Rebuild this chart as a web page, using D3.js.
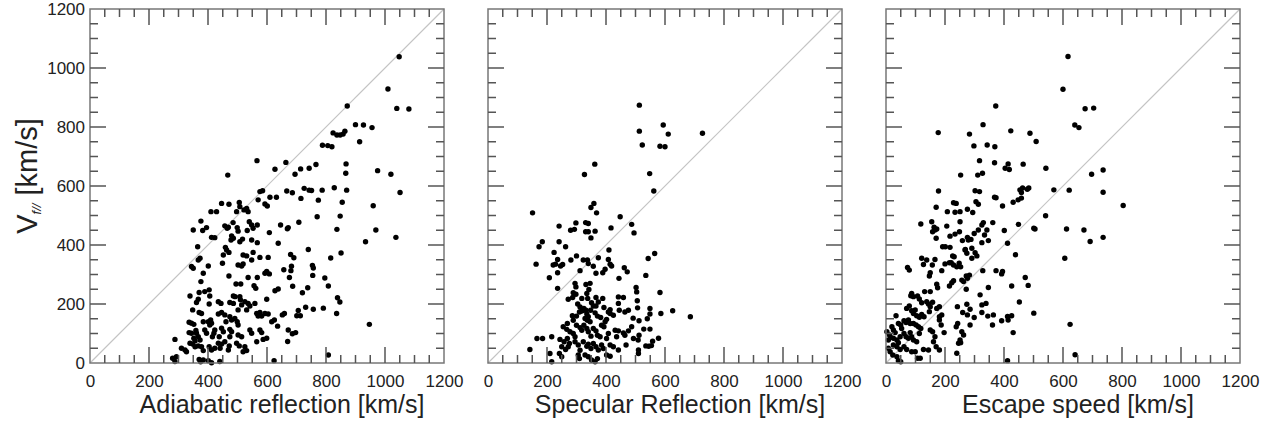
<!DOCTYPE html>
<html>
<head>
<meta charset="utf-8">
<script src="https://cdn.jsdelivr.net/npm/d3@7"></script>
</head>
<body style="margin:0;background:#fff">
<svg width="1274" height="428"></svg>
<script>
// tick values (km/s)
var majorTicks = [0,200,400,600,800,1000,1200];
var minorTicks = [0,50,100,150,200,250,300,350,400,450,500,550,600,650,700,750,800,850,900,950,1000,1050,1100,1150,1200];
var xTitles = ["Adiabatic reflection [km/s]","Specular Reflection [km/s]","Escape speed [km/s]"];

// [model speed, V_f//]
var adiabatic = [
[824,780],[837,773],[848,773],[858,776],[864,786],[900,808],[927,807],[956,798],[914,750],[788,738],[806,737],[820,733],
[872,871],[1010,929],[1040,863],[1081,861],[1048,1038],
[664,680],[695,640],[714,658],[743,660],[766,673],[868,675],[867,643],[975,652],[1020,640],[1051,578],[667,583],[686,577],
[726,592],[743,586],[751,585],[787,586],[828,594],[870,586],[715,558],[774,552],[855,545],[848,498],[770,496],[646,468],
[669,455],[672,459],[708,477],[837,453],[960,533],[969,451],[934,411],[1037,426],[740,385],[816,356],[851,373],[680,368],
[691,357],[754,331],[757,322],[755,297],[657,316],[683,328],[681,313],[676,290],[687,260],[627,245],[638,251],[738,255],
[720,238],[796,288],[808,261],[839,221],[847,207],[791,186],[757,182],[731,189],[706,178],[701,160],[713,160],[659,168],
[652,163],[616,140],[625,146],[636,125],[836,168],[947,131],[672,112],[686,99],[697,103],[670,73],[808,27],
[566,686],[467,637],[627,657],[576,581],[585,584],[570,553],[593,539],[601,532],[610,562],[632,562],[446,541],[471,538],
[506,544],[508,530],[497,513],[522,519],[531,524],[536,513],[410,513],[429,513],[376,481],[350,451],[382,449],[395,459],
[457,465],[465,457],[469,460],[485,476],[499,459],[502,447],[540,479],[548,468],[553,457],[567,468],[608,442],[533,449],
[412,426],[423,425],[480,431],[486,423],[478,417],[508,411],[517,420],[548,417],[567,408],[638,406],[365,394],[459,392],
[463,383],[452,366],[471,375],[373,355],[367,349],[344,327],[350,321],[401,329],[384,304],[519,366],[531,363],[553,375],
[548,349],[576,358],[604,358],[502,332],[514,329],[519,336],[449,338],[593,304],[599,310],[608,302],[567,290],[471,295],
[536,290],[376,276],[495,268],[511,268],[556,262],[562,253],[339,227],[370,239],[389,242],[404,248],[406,227],[486,227],
[492,225],[361,205],[367,216],[404,200],[435,208],[444,202],[508,225],[510,214],[514,197],[525,208],[474,205],[486,202],
[502,180],[536,202],[542,193],[565,168],[576,171],[582,159],[570,159],[559,202],[593,168],[604,166],[599,216],[531,180],
[348,180],[370,171],[378,168],[336,138],[344,135],[352,131],[384,140],[401,140],[409,146],[412,135],[406,129],[435,166],
[446,171],[457,163],[461,140],[474,157],[480,146],[491,151],[359,110],[361,101],[352,84],[367,89],[373,78],[356,75],
[336,103],[344,101],[389,112],[395,101],[423,112],[420,101],[415,89],[446,118],[452,106],[438,89],[474,114],[480,106],
[474,89],[499,140],[502,129],[502,95],[514,89],[542,112],[548,101],[576,112],[582,103],[587,80],[599,84],[339,67],
[348,64],[356,55],[322,44],[310,50],[327,38],[288,80],[367,58],[378,55],[384,42],[404,55],[412,44],[423,50],[435,67],
[446,64],[441,50],[457,72],[472,58],[469,44],[525,55],[531,42],[519,38],[497,67],[506,58],[565,72],[280,16],[288,5],
[293,21],[370,12],[375,4],[384,10],[401,8],[412,1],[440,5],[624,8]
];

var specular = [
[513,874],[513,786],[362,674],[327,639],[151,509],[359,541],[349,527],[368,509],[448,496],[487,470],[495,441],[241,464],
[280,450],[293,453],[298,475],[331,476],[340,473],[331,445],[340,445],[363,447],[349,424],[417,458],[184,411],[173,394],
[241,411],[263,394],[224,375],[236,351],[163,335],[221,332],[229,335],[246,329],[253,334],[236,306],[208,289],[281,349],
[300,363],[312,313],[323,349],[337,349],[340,337],[357,328],[374,357],[410,383],[408,351],[414,335],[419,329],[366,304],
[389,306],[397,318],[462,323],[472,309],[444,287],[236,253],[295,270],[298,258],[332,266],[342,249],[346,270],[289,238],
[298,233],[272,216],[287,222],[335,236],[338,219],[318,219],[366,222],[374,207],[389,219],[442,224],[459,222],[502,256],
[504,241],[304,200],[312,190],[325,185],[332,179],[351,204],[357,193],[366,193],[393,188],[408,173],[414,181],[442,202],
[445,179],[464,173],[476,179],[348,179],[363,170],[310,173],[318,176],[323,179],[286,160],[300,159],[335,166],[340,157],
[329,151],[337,145],[346,140],[371,159],[382,154],[397,140],[402,148],[414,168],[425,162],[269,134],[289,145],[255,123],
[267,114],[300,128],[312,120],[318,111],[278,106],[289,100],[295,89],[325,128],[335,117],[340,106],[349,91],[357,117],
[366,109],[371,94],[380,89],[385,128],[393,123],[408,100],[402,83],[431,111],[442,109],[436,89],[459,102],[464,94],
[493,83],[476,109],[166,83],[185,83],[216,89],[244,80],[258,72],[269,83],[276,66],[250,55],[263,46],[272,55],[295,72],
[306,61],[312,43],[323,72],[335,57],[340,64],[349,49],[357,66],[366,55],[374,44],[385,61],[391,49],[414,61],[425,55],
[442,44],[468,61],[329,27],[340,21],[351,10],[363,4],[371,15],[306,27],[310,15],[242,32],[250,21],[210,32],[142,46],
[216,4],[402,27],[414,23],[510,44],[510,32],
[594,807],[611,776],[523,739],[583,735],[600,733],[727,779],[548,642],[562,583],[565,371],[543,354],[535,297],[583,239],
[506,211],[507,187],[549,185],[549,166],[540,150],[586,168],[626,177],[686,157],[492,152],[512,143],[487,123],[528,115],
[549,115],[512,94],[509,78],[578,84],[558,74],[535,58],[545,57],[554,59]
];

var escapeSpeed = [
[317,686],[368,679],[404,660],[418,656],[253,637],[311,637],[327,643],[178,583],[302,584],[317,581],[368,562],[373,560],
[395,532],[170,528],[229,543],[238,541],[208,513],[234,511],[251,513],[276,521],[305,547],[313,538],[251,479],[294,510],
[330,476],[325,468],[362,476],[118,471],[155,479],[163,460],[166,451],[172,454],[158,445],[206,464],[249,445],[217,430],
[234,437],[276,426],[279,417],[288,419],[299,439],[313,451],[342,451],[334,434],[170,423],[401,449],[259,415],[325,408],
[347,415],[192,394],[201,394],[217,392],[269,385],[226,363],[231,360],[268,383],[274,372],[291,389],[302,374],[291,355],
[308,363],[248,338],[253,326],[229,332],[240,326],[121,355],[138,349],[166,351],[127,334],[157,332],[73,324],[79,315],
[150,306],[147,295],[189,313],[200,336],[215,340],[221,340],[272,295],[276,287],[283,298],[257,281],[263,276],[328,313],
[373,313],[223,272],[229,279],[215,261],[172,267],[175,255],[272,250],[319,231],[347,256],[131,242],[150,242],[107,227],
[113,217],[93,225],[87,236],[84,228],[121,204],[138,208],[144,200],[158,206],[150,191],[147,174],[172,185],[181,191],
[189,163],[181,157],[242,191],[274,199],[285,182],[276,163],[260,171],[325,197],[339,202],[325,171],[345,159],[364,163],
[299,154],[361,129],[243,134],[238,123],[285,129],[257,106],[263,95],[251,78],[246,67],[253,69],[240,33],[70,185],
[79,193],[87,177],[93,168],[99,180],[104,160],[113,155],[121,165],[129,157],[61,143],[68,137],[76,146],[82,134],
[93,134],[102,129],[110,123],[118,117],[34,160],[42,134],[50,129],[53,117],[20,123],[25,112],[31,103],[3,106],[12,95],
[16,87],[8,78],[25,84],[37,78],[42,69],[48,89],[61,100],[68,89],[76,84],[82,103],[87,89],[93,78],[104,72],[113,100],
[25,61],[37,55],[48,46],[8,50],[14,38],[23,27],[61,55],[70,46],[87,38],[37,21],[42,8],[50,4],[99,38],[107,16],[127,46],
[144,44],[158,106],[166,89],[161,72],[170,55],[181,44],[116,16],[150,112],[197,103],[187,129],[181,146],
[177,781],[372,871],[329,808],[283,776],[298,736],[343,739],[369,733],
[617,1039],[600,928],[675,862],[704,864],[640,807],[654,798],[423,787],[488,779],[509,751],[414,675],[465,674],[542,660],
[697,640],[736,654],[736,579],[804,534],[569,587],[621,586],[454,587],[459,578],[463,593],[479,589],[484,593],[431,545],
[448,553],[459,559],[541,499],[449,470],[412,406],[501,457],[505,454],[612,454],[671,451],[692,412],[736,426],[606,355],
[439,367],[395,310],[392,302],[472,290],[482,263],[426,261],[452,207],[501,169],[392,143],[412,158],[426,160],[414,146],
[431,103],[624,131],[641,28],[412,8]
];

var panels = [adiabatic, specular, escapeSpeed];
var svg = d3.select("svg");
var lefts = [90, 488, 886];
var topY = 9, size = 354;
var font = "'Liberation Sans',Arial,sans-serif";
var scales = [];

function tickLen(v){ return (majorTicks.indexOf(v)!=-1) ? 16 : 8; }

panels.forEach(function(pts, i)
{
  var left = lefts[i];
  var x = d3.scaleLinear().domain([0,1200]).range([left, left+size]);
  var y = d3.scaleLinear().domain([0,1200]).range([topY+size, topY]);
  scales.push([x, y]);

  // 1:1 line
  svg.append("line")
    .attr("x1", x(0)).attr("y1", y(0))
    .attr("x2", x(1200)).attr("y2", y(1200))
    .attr("stroke", "#c4c4c4").attr("stroke-width", 1.2);

  // points
  svg.append("g").selectAll("circle").data(pts).enter().append("circle")
    .attr("cx", d => x(d[0]))
    .attr("cy", d => y(d[1]))
    .attr("r", 2.7)
    .attr("fill", "#000");

  // frame
  svg.append("rect")
    .attr("x", x(0)).attr("y", y(1200))
    .attr("width", size).attr("height", size)
    .attr("fill", "none").attr("stroke", "#777").attr("stroke-width", 1.5);

  // tick labels
  var xl = svg.append("g").attr("transform", "translate(0," + y(0) + ")")
    .call(d3.axisBottom(x).tickValues(majorTicks).tickSize(0).tickPadding(12).tickFormat(d3.format("d")));
  xl.select(".domain").remove();
  xl.selectAll("text").attr("font-size", 17).attr("fill", "#222").attr("font-family", font);

  if(i==0)
  {
    var yl = svg.append("g").attr("transform", "translate(" + x(0) + ",0)")
      .call(d3.axisLeft(y).tickValues(majorTicks).tickSize(0).tickPadding(5).tickFormat(d3.format("d")));
    yl.select(".domain").remove();
    yl.selectAll("text").attr("font-size", 17).attr("fill", "#222").attr("font-family", font);
  }

  // x title
  svg.append("text")
    .attr("x", left + 192).attr("y", 413)
    .attr("text-anchor", "middle")
    .attr("font-family", font)
    .attr("font-size", 25)
    .attr("fill", "#222")
    .text(xTitles[i]);
});

// y title with subscript
var yt = svg.append("text")
  .attr("transform", "translate(37,176) rotate(-90)")
  .attr("text-anchor", "middle")
  .attr("font-family", font)
  .attr("fill", "#222")
  .attr("font-size", 29);
yt.append("tspan").text("V");
yt.append("tspan").attr("dy", 4).attr("font-size", 13).attr("font-style", "italic").text("f//");
yt.append("tspan").attr("dy", -4).text(" [km/s]");

// inward ticks on all four sides, drawn last as small filled bars
var inner = minorTicks.slice(1, minorTicks.length-1);
scales.forEach(function(s)
{
  var x = s[0], y = s[1];
  var tg = svg.append("g").attr("fill", "#555");
  tg.selectAll("rect.tb").data(inner).enter().append("rect").attr("class", "tb")
    .attr("x", d => x(d) - 0.75).attr("y", d => y(0) - tickLen(d))
    .attr("width", 1.5).attr("height", d => tickLen(d));
  tg.selectAll("rect.tt").data(inner).enter().append("rect").attr("class", "tt")
    .attr("x", d => x(d) - 0.75).attr("y", y(1200))
    .attr("width", 1.5).attr("height", d => tickLen(d));
  tg.selectAll("rect.tl").data(inner).enter().append("rect").attr("class", "tl")
    .attr("x", x(0)).attr("y", d => y(d) - 0.75)
    .attr("width", d => tickLen(d)).attr("height", 1.5);
  tg.selectAll("rect.tr").data(inner).enter().append("rect").attr("class", "tr")
    .attr("x", d => x(1200) - tickLen(d)).attr("y", d => y(d) - 0.75)
    .attr("width", d => tickLen(d)).attr("height", 1.5);
});
</script>
</body>
</html>
